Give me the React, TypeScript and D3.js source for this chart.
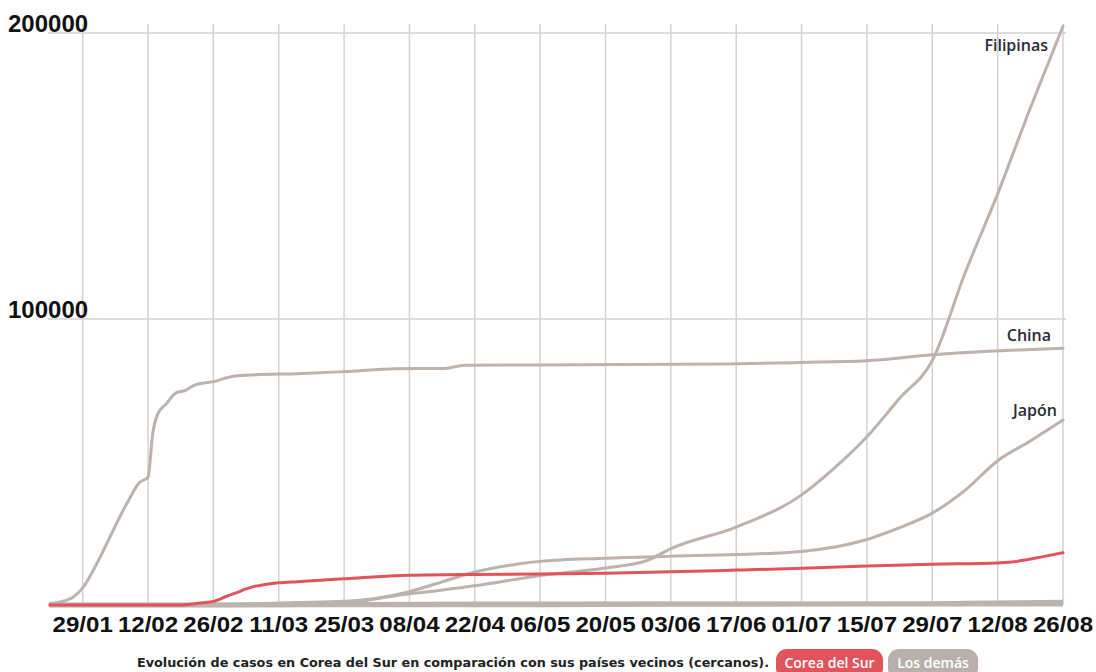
import React from "react";
import * as d3 from "d3";

// ---- data (cumulative cases) ----
const xTickLabels = ["29/01","12/02","26/02","11/03","25/03","08/04","22/04","06/05","20/05","03/06","17/06","01/07","15/07","29/07","12/08","26/08"];
const yTickValues = [100000, 200000];

const koreaDates = ["01-22","02-18","02-20","02-22","02-24","02-26","02-29","03-02","03-04","03-06","03-08","03-11","03-15","03-20","03-25","04-01","04-08","04-22","05-06","05-20","06-03","06-17","07-01","07-15","07-29","08-12","08-15","08-18","08-22","08-26"];
const koreaValues = [1,31,104,433,833,1261,3150,4335,5621,6593,7134,7755,8162,8652,9137,9887,10384,10694,10810,11110,11590,12198,12850,13612,14251,14714,15039,15761,17002,18265];

const chinaDates = ["01-22","01-25","01-27","01-29","02-01","02-04","02-06","02-08","02-10","02-12","02-13","02-14","02-16","02-18","02-20","02-22","02-26","03-01","03-05","03-15","03-25","04-05","04-15","04-20","05-15","06-15","07-01","07-15","07-29","08-10","08-26"];
const chinaValues = [548,1400,2800,6000,14400,24300,31000,37100,42600,44700,59900,66500,70500,74200,75000,76900,78100,79900,80400,80900,81600,82600,82700,83800,84000,84300,84800,85400,87500,88700,89800];

const japanDates = ["01-22","02-15","03-01","03-15","03-25","04-01","04-08","04-15","04-22","05-01","05-06","05-20","06-03","06-17","07-01","07-15","07-22","07-29","08-05","08-12","08-19","08-26"];
const japanValues = [2,43,256,839,1307,2384,4667,8100,11512,14281,15253,16385,17064,17668,18723,22890,27029,32135,40073,50444,57357,64668];

const philippinesDates = ["01-22","01-30","03-08","03-15","03-22","03-29","04-05","04-12","04-22","05-06","05-20","05-29","06-03","06-17","07-01","07-08","07-15","07-22","07-29","08-05","08-12","08-19","08-26"];
const philippinesValues = [0,1,10,140,380,1418,3246,4648,6710,10343,12942,15588,19748,27238,38511,47873,58850,72269,85486,115980,143749,173774,202361];

const taiwanDates = ["01-22","03-01","03-25","04-08","05-06","07-01","08-26"];
const taiwanValues = [1,41,235,379,438,447,487];

const vietnamDates = ["01-22","03-01","03-25","04-08","05-06","07-01","07-25","08-05","08-26"];
const vietnamValues = [0,16,141,251,288,355,420,713,1034];

const mongoliaDates = ["01-22","03-10","03-25","04-08","05-06","06-03","07-01","08-26"];
const mongoliaValues = [0,1,11,16,42,185,220,304];

const caption = "Evolución de casos en Corea del Sur en comparación con sus países vecinos (cercanos).";

// ---- helpers ----
const parseMD = (md: string) => new Date(Date.UTC(2020, +md.slice(0, 2) - 1, +md.slice(3, 5)));
const parseTick = (dm: string) => new Date(Date.UTC(2020, +dm.slice(3, 5) - 1, +dm.slice(0, 2)));
const toSeries = (dates: string[], values: number[]) => dates.map((d, i) => ({ date: parseMD(d), value: values[i] }));

const W = 1096, H = 672;
const RED = "#e2545c";
const GRAY = "#bcb2ae";
const GRID = "#d2d2d2";

export default function App() {
  const x = d3.scaleUtc().domain([parseMD("01-22"), parseMD("08-26")]).range([50, 1063]);
  const y = d3.scaleLinear().domain([0, 200000]).range([605, 33]);
  const line = d3.line<{ date: Date; value: number }>()
    .x(d => x(d.date))
    .y(d => y(d.value))
    .curve(d3.curveMonotoneX);

  const grays = [
    toSeries(mongoliaDates, mongoliaValues),
    toSeries(taiwanDates, taiwanValues),
    toSeries(vietnamDates, vietnamValues),
    toSeries(chinaDates, chinaValues),
    toSeries(japanDates, japanValues),
    toSeries(philippinesDates, philippinesValues),
  ];
  const korea = toSeries(koreaDates, koreaValues);
  const ticks = xTickLabels.map(t => ({ label: t, date: parseTick(t) }));

  return (
    <svg width={W} height={H} style={{ position: "absolute", left: 0, top: 0, background: "#fff" }}>
      {/* vertical grid */}
      {ticks.map(t => (
        <line key={t.label} x1={x(t.date)} x2={x(t.date)} y1={24} y2={605} stroke={GRID} strokeWidth={1.5} />
      ))}
      {/* horizontal grid */}
      {yTickValues.map(v => (
        <line key={v} x1={48} x2={1066} y1={y(v)} y2={y(v)} stroke={GRID} strokeWidth={1.5} />
      ))}
      {/* y labels */}
      {yTickValues.map(v => (
        <text key={"l" + v} x={8} y={y(v) - 1} fontFamily="'Liberation Sans', Arial, sans-serif" fontWeight="bold" fontSize={24} fill="#111">
          {String(v)}
        </text>
      ))}
      {/* bottom band of near-zero series */}
      {grays.slice(0, 3).map((s, i) => (
        <path key={"b" + i} d={line(s) || ""} fill="none" stroke={GRAY} strokeWidth={4.5} strokeLinejoin="round" />
      ))}
      {/* gray lines */}
      {grays.slice(3).map((s, i) => (
        <path key={i} d={line(s) || ""} fill="none" stroke={GRAY} strokeWidth={3} strokeLinejoin="round" strokeLinecap="round" />
      ))}
      {/* Korea */}
      <path d={line(korea) || ""} fill="none" stroke={RED} strokeWidth={3} strokeLinejoin="round" strokeLinecap="round" />

      {/* line labels */}
      <g fontFamily="'Open Sans', sans-serif" fontWeight={600} fontSize={16} fill="#2b2b3a" textAnchor="end">
        <text x={1048} y={51}>Filipinas</text>
        <text x={1051} y={341}>China</text>
        <text x={1057} y={416}>Japón</text>
      </g>

      {/* x labels */}
      {ticks.map(t => (
        <text key={"x" + t.label} transform={`translate(${x(t.date)},632) scale(1.12,1)`} textAnchor="middle" fontFamily="'Liberation Sans', Arial, sans-serif" fontWeight="bold" fontSize={21.5} fill="#111">
          {t.label}
        </text>
      ))}

      {/* caption + legend pills */}
      <text x={137} y={667} textLength={632} lengthAdjust="spacingAndGlyphs" fontFamily="'DejaVu Sans', Verdana, sans-serif" fontWeight="bold" fontSize={12} fill="#222">
        {caption}
      </text>
      <rect x={776} y={649} width={107} height={30} rx={11} fill={RED} />
      <text x={829.5} y={668} textAnchor="middle" fontFamily="'Open Sans', sans-serif" fontWeight={600} fontSize={14} fill="#fff">Corea del Sur</text>
      <rect x={888} y={649} width={90} height={30} rx={11} fill="#b9afac" />
      <text x={933} y={668} textAnchor="middle" fontFamily="'Open Sans', sans-serif" fontWeight={600} fontSize={14} fill="#fff">Los demás</text>
    </svg>
  );
}
